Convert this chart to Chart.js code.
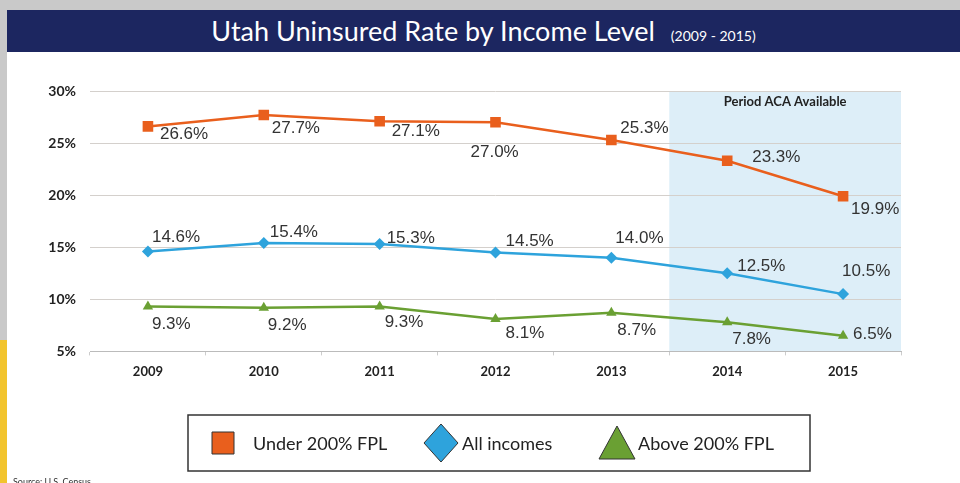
<!DOCTYPE html>
<html>
<head>
<meta charset="utf-8">
<script src="https://cdn.jsdelivr.net/npm/chart.js@4.4.1/dist/chart.umd.min.js"></script>
<style>
  body { margin: 0; width: 960px; height: 483px; background: #c9c9c9; position: relative; overflow: hidden; font-family: Lato, "Open Sans", sans-serif; }
  #yellow { position: absolute; left: 0; top: 340px; width: 7px; height: 143px; background: #f2c42e; }
  #page { position: absolute; left: 7px; top: 10px; width: 953px; height: 473px; background: #fff; }
  #header { position: absolute; left: 0; top: 0; width: 953px; height: 42px; background: #1c2660; color: #fff; text-align: center; }
  #header .main { font-size: 27px; line-height: 42px; }
  #header .sub { font-size: 14px; margin-left: 16px; }
  #wrap { position: absolute; left: 0; top: 42px; width: 953px; height: 431px; }
  #source { position: absolute; left: 6px; top: 466px; font-size: 9px; color: #333; }
</style>
</head>
<body>
<div id="yellow"></div>
<div id="page">
  <div id="header"><span class="main">Utah Uninsured Rate by Income Level</span><span class="sub">(2009 - 2015)</span></div>
  <div id="wrap"><canvas id="chart" width="953" height="431"></canvas></div>
  <div id="source">Source: U.S. Census</div>
</div>
<script>
// Chart data
const years = ['2009', '2010', '2011', '2012', '2013', '2014', '2015'];
const under200 = [26.6, 27.7, 27.1, 27.0, 25.3, 23.3, 19.9];
const allIncomes = [14.6, 15.4, 15.3, 14.5, 14.0, 12.5, 10.5];
const above200 = [9.3, 9.2, 9.3, 8.1, 8.7, 7.8, 6.5];
const seriesNames = ['Under 200% FPL', 'All incomes', 'Above 200% FPL'];
const acaStartIndex = 5;   // first year in the shaded ACA period
const acaLabel = 'Period ACA Available';

const colors = ['#e95f1d', '#2ea3dc', '#6aa033'];
const markers = ['rect', 'rectRot', 'triangle'];

// label offsets [dx, dy] from each point, per series
const labelOffsets = [
  [[12, 8], [8, 13], [12, 10], [-25, 30], [9, -12], [25, -3], [8, 13]],
  [[4, -14], [6, -11], [7, -6], [10, -11], [4, -19], [10, -7], [-1, -23]],
  [[4, 18], [4, 18], [5, 16], [10, 14], [6, 17], [5, 17], [10, -1]]
];

const shadePlugin = {
  id: 'acaShade',
  beforeDraw(chart) {
    const { ctx, chartArea, scales } = chart;
    const x = scales.x;
    const left = (x.getPixelForValue(acaStartIndex - 1) + x.getPixelForValue(acaStartIndex)) / 2;
    ctx.save();
    ctx.fillStyle = '#ddeef8';
    ctx.fillRect(left, chartArea.top, chartArea.right - left, chartArea.bottom - chartArea.top);
    ctx.restore();
  },
  afterDatasetsDraw(chart) {
    const { ctx, chartArea, scales } = chart;
    const x = scales.x;
    const left = (x.getPixelForValue(acaStartIndex - 1) + x.getPixelForValue(acaStartIndex)) / 2;
    ctx.save();
    ctx.fillStyle = '#222';
    ctx.font = 'bold 13px Lato, "Open Sans", sans-serif';
    ctx.textAlign = 'center';
    ctx.textBaseline = 'middle';
    ctx.fillText(acaLabel, (left + chartArea.right) / 2, chartArea.top + 11);
    ctx.restore();
  }
};

const labelPlugin = {
  id: 'valueLabels',
  afterDatasetsDraw(chart) {
    const { ctx } = chart;
    ctx.save();
    ctx.font = '17px "Liberation Sans", Arial, sans-serif';
    ctx.fillStyle = '#333';
    ctx.textAlign = 'left';
    ctx.textBaseline = 'middle';
    chart.data.datasets.forEach((ds, i) => {
      chart.getDatasetMeta(i).data.forEach((pt, j) => {
        const off = labelOffsets[i][j];
        ctx.fillText(ds.data[j].toFixed(1) + '%', pt.x + off[0], pt.y + off[1]);
      });
    });
    ctx.restore();
  }
};

const legendPlugin = {
  id: 'boxLegend',
  afterDraw(chart) {
    const { ctx } = chart;
    const top = 363, h = 56, left = 181, w = 622;
    ctx.save();
    ctx.strokeStyle = '#333';
    ctx.lineWidth = 1.5;
    ctx.strokeRect(left, top, w, h);
    const cy = top + h / 2;
    const items = [
      { x: 205, tx: 246 },
      { x: 434, tx: 455 },
      { x: 610, tx: 631 }
    ];
    ctx.font = '18px Lato, "Open Sans", sans-serif';
    ctx.textBaseline = 'middle';
    items.forEach((it, i) => {
      ctx.fillStyle = colors[i];
      ctx.strokeStyle = '#333';
      ctx.lineWidth = 1;
      ctx.beginPath();
      if (i === 0) {
        ctx.rect(it.x, cy - 11, 22, 22);
      } else if (i === 1) {
        ctx.moveTo(it.x, cy - 19); ctx.lineTo(it.x + 17, cy); ctx.lineTo(it.x, cy + 19); ctx.lineTo(it.x - 17, cy); ctx.closePath();
      } else {
        ctx.moveTo(it.x, cy - 17); ctx.lineTo(it.x + 18, cy + 16); ctx.lineTo(it.x - 18, cy + 16); ctx.closePath();
      }
      ctx.fill();
      ctx.stroke();
      ctx.fillStyle = '#222';
      ctx.fillText(seriesNames[i], it.tx, cy + 1);
    });
    ctx.restore();
  }
};

const makeSet = (label, data, i) => ({
  label: label,
  data: data,
  borderColor: colors[i],
  backgroundColor: colors[i],
  borderWidth: 2.5,
  pointStyle: markers[i],
  pointRadius: i === 0 ? 7.5 : 6,
  pointBorderWidth: 0,
  tension: 0
});

new Chart(document.getElementById('chart'), {
  type: 'line',
  data: {
    labels: years,
    datasets: [
      makeSet(seriesNames[0], under200, 0),
      makeSet(seriesNames[1], allIncomes, 1),
      makeSet(seriesNames[2], above200, 2)
    ]
  },
  options: {
    responsive: false,
    animation: false,
    layout: { padding: { left: 20, right: 59, top: 39, bottom: 94 } },
    plugins: { legend: { display: false }, tooltip: { enabled: false } },
    scales: {
      x: {
        offset: true,
        grid: { offset: true, drawOnChartArea: false, tickLength: 4, color: '#ccc' },
        border: { color: '#bbb' },
        ticks: { color: '#222', font: { size: 13, weight: 'bold', family: 'Lato, "Open Sans", sans-serif' }, padding: 9 }
      },
      y: {
        min: 5,
        max: 30,
        afterFit: s => { s.width = 63; },
        grid: { color: '#d4d0cc', drawTicks: false },
        border: { display: false },
        ticks: {
          stepSize: 5,
          padding: 14,
          color: '#222',
          font: { size: 14, weight: 'bold', family: 'Lato, "Open Sans", sans-serif' },
          callback: v => v + '%'
        }
      }
    }
  },
  plugins: [shadePlugin, labelPlugin, legendPlugin]
});
</script>
</body>
</html>
